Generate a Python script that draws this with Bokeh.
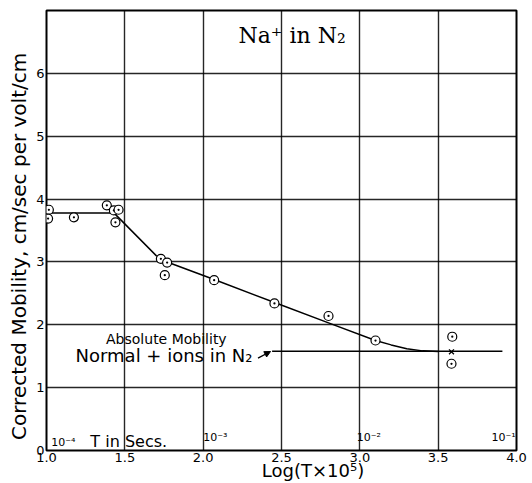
from bokeh.plotting import figure
from bokeh.models import Label, FixedTicker, Arrow, NormalHead
from bokeh.embed import file_html
from bokeh.resources import INLINE

# observed mobilities (circle-dot markers)
obs_x = [1.015, 1.01, 1.175, 1.385, 1.43, 1.46, 1.44, 1.73, 1.77, 1.755, 2.07, 2.455, 2.80, 3.10, 3.59, 3.585]
obs_y = [3.83, 3.69, 3.71, 3.90, 3.82, 3.83, 3.63, 3.05, 2.99, 2.79, 2.71, 2.34, 2.14, 1.75, 1.81, 1.38]
# cross marker
cross_x = [3.585]
cross_y = [1.57]
# drawn curve
curve_x = [1.0, 1.43, 1.70, 1.77, 2.07, 2.46, 2.80, 3.10, 3.20, 3.30, 3.40, 3.50]
curve_y = [3.78, 3.78, 3.10, 3.00, 2.72, 2.35, 2.03, 1.75, 1.68, 1.62, 1.585, 1.575]
# absolute mobility line
abs_x = [2.44, 3.91]
abs_y = [1.58, 1.58]

x_ticks = [1.0, 1.5, 2.0, 2.5, 3.0, 3.5, 4.0]
x_tick_labels = ["1.0", "1.5", "2.0", "2.5", "3.0", "3.5", "4.0"]
y_ticks = [0, 1, 2, 3, 4, 5, 6]

FONT = "DejaVu Sans"
NB = "\u00a0"

p = figure(frame_width=470, frame_height=440, x_range=(1.0, 4.0), y_range=(0, 7),
           output_backend="svg", toolbar_location=None,
           min_border_left=46, min_border_right=16, min_border_top=10, min_border_bottom=33,
           background_fill_color="white", border_fill_color="white")

p.outline_line_color = "black"
p.outline_line_width = 2
p.xgrid.grid_line_color = "black"
p.ygrid.grid_line_color = "black"
p.xgrid.grid_line_width = 1.4
p.ygrid.grid_line_width = 1.4
p.xgrid.grid_line_alpha = 0.85
p.ygrid.grid_line_alpha = 0.85
p.xaxis.ticker = FixedTicker(ticks=x_ticks)
p.yaxis.ticker = FixedTicker(ticks=y_ticks)
p.xaxis.major_label_overrides = dict(zip(x_ticks, x_tick_labels))

for ax in (p.xaxis, p.yaxis):
    ax.axis_line_color = None
    ax.major_tick_line_color = None
    ax.minor_tick_line_color = None
    ax.major_tick_out = 0
    ax.major_label_standoff = 2
    ax.major_label_text_font = FONT
    ax.major_label_text_font_size = "13px"
    ax.major_label_text_color = "black"
    ax.axis_label_text_font = FONT
    ax.axis_label_text_font_style = "normal"
    ax.axis_label_text_color = "black"

# axis titles (non-breaking spaces shift the centred text as in the original)
p.yaxis.axis_label = "Corrected Mobility,  cm/sec per volt/cm" + NB * 4
p.yaxis.axis_label_text_font_size = "20px"
p.yaxis.axis_label_standoff = 2
p.xaxis.axis_label = NB * 11 + "Log(T×10⁵)"
p.xaxis.axis_label_text_font_size = "18px"
p.xaxis.axis_label_standoff = -5

p.line(curve_x, curve_y, line_color="black", line_width=1.5)
p.line(abs_x, abs_y, line_color="black", line_width=1.5)
p.scatter(obs_x, obs_y, marker="circle_dot", size=9, line_color="black",
          fill_color="white", line_width=1.2)
p.scatter(cross_x, cross_y, marker="x", size=7, line_color="black", line_width=1.3)

p.add_layout(Arrow(x_start=2.35, y_start=1.47, x_end=2.43, y_end=1.575,
                   line_color="black", line_width=1.3,
                   end=NormalHead(size=6, fill_color="black", line_color="black")))

def lab(x, y, text, size, align="left", font=FONT, baseline="middle"):
    p.add_layout(Label(x=x, y=y, text=text, text_font=font, text_font_size=size,
                       text_align=align, text_baseline=baseline, text_color="black"))

lab(2.59, 6.6, "Na⁺  in N₂", "22px", align="center", font="DejaVu Serif")
lab(1.765, 1.78, "Absolute Mobility", "14px", align="center")
lab(1.75, 1.51, "Normal + ions in N₂", "18px", align="center")
lab(1.03, 0.13, "10⁻⁴", "11px")
lab(1.28, 0.15, "T in Secs.", "16px")
lab(2.0, 0.2, "10⁻³", "11px")
lab(2.98, 0.2, "10⁻²", "11px")
lab(3.995, 0.2, "10⁻¹", "11px", align="right")

open("out.html", "w").write(file_html(p, INLINE))
